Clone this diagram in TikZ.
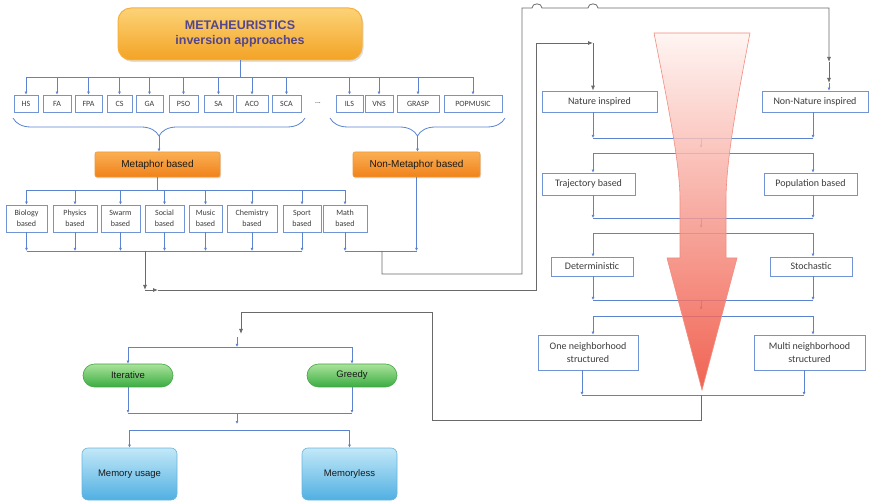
\documentclass[tikz,border=0pt]{standalone}
\usepackage{fontspec}
\setmainfont{Carlito}
\newfontfamily\arial{Liberation Sans}
\usetikzlibrary{arrows.meta,decorations.pathreplacing,shadows}

\definecolor{lnblue}{HTML}{5B83D0}
\definecolor{bxblue}{HTML}{7094D6}
\definecolor{gline}{HTML}{6A6A6A}
\definecolor{txt}{HTML}{3C3C3C}
\definecolor{ttl}{HTML}{53468C}

\begin{document}
\begin{tikzpicture}[x=1pt,y=-1pt,
  bx/.style={draw=bxblue, line width=0.7pt, fill=white, inner sep=1pt, text=txt, align=center},
  smallbx/.style={bx, font=\fontsize{8}{9}\selectfont, minimum height=17pt},
  catbx/.style={bx, font=\fontsize{8}{11}\selectfont, minimum height=27pt},
  colbx/.style={bx, font=\fontsize{10}{13}\selectfont},
  ttlbox/.style={rounded corners=13pt, draw={rgb,255:red,246;green,176;blue,64}, line width=1pt,
    top color={rgb,255:red,252;green,211;blue,119}, middle color={rgb,255:red,249;green,190;blue,74},
    bottom color={rgb,255:red,243;green,163;blue,37},
    drop shadow={opacity=0.25, shadow xshift=1.5pt, shadow yshift=-2pt},
    text=ttl, font=\arial\bfseries\fontsize{12.5}{15}\selectfont, align=center,
    minimum width=244pt, minimum height=52pt},
  orbox/.style={rounded corners=2pt, draw={rgb,255:red,243;green,150;blue,50}, line width=0.6pt,
    top color={rgb,255:red,250;green,175;blue,85}, bottom color={rgb,255:red,240;green,130;blue,25},
    drop shadow={opacity=0.25, shadow xshift=1pt, shadow yshift=-1.5pt},
    font=\arial\fontsize{10}{12}\selectfont, text=black!90, minimum height=25pt},
  grbox/.style={rounded corners=11.5pt, draw={rgb,255:red,70;green,165;blue,72}, line width=0.6pt,
    top color={rgb,255:red,170;green,228;blue,155}, bottom color={rgb,255:red,58;green,172;blue,65},
    font=\arial\fontsize{9.5}{12}\selectfont, text=black!90, minimum width=90pt, minimum height=23pt},
  blbox/.style={rounded corners=6pt, draw={rgb,255:red,105;green,180;blue,222}, line width=0.6pt,
    top color={rgb,255:red,195;green,232;blue,248}, bottom color={rgb,255:red,80;green,176;blue,226},
    font=\arial\fontsize{9.5}{12}\selectfont, text=black!90, minimum width=95pt, minimum height=52pt},
  bl/.style={draw=lnblue, line width=0.8pt},
  bla/.style={bl, -{Latex[length=3pt,width=3pt]}},
  gl/.style={draw=gline, line width=0.8pt},
  ga/.style={gl, -{Latex[length=5pt,width=4pt]}}
]
\useasboundingbox (0,0) rectangle (870,502);

% ---------- title ----------
\node[ttlbox] (title) at (240,34) {METAHEURISTICS\\inversion approaches};

% ---------- algorithm boxes ----------
\node[smallbx, minimum width=24pt] (hs)  at (26,103.5)  {HS};
\node[smallbx, minimum width=28pt] (fa)  at (57,103.5)  {FA};
\node[smallbx, minimum width=27pt] (fpa) at (88.5,103.5) {FPA};
\node[smallbx, minimum width=25pt] (cs)  at (119.5,103.5) {CS};
\node[smallbx, minimum width=27pt] (ga)  at (149.5,103.5) {GA};
\node[smallbx, minimum width=29pt] (pso) at (183.5,103.5) {PSO};
\node[smallbx, minimum width=29pt] (sa)  at (218.5,103.5) {SA};
\node[smallbx, minimum width=32pt] (aco) at (252,103.5) {ACO};
\node[smallbx, minimum width=29pt] (sca) at (286.5,103.5) {SCA};
\node[text=txt, font=\fontsize{7.5}{9}\selectfont] (dots) at (318,103) {...};
\node[smallbx, minimum width=27pt] (ils) at (349.5,103.5) {ILS};
\node[smallbx, minimum width=28pt] (vns) at (379,103.5) {VNS};
\node[smallbx, minimum width=42pt] (grasp) at (418,103.5) {GRASP};
\node[smallbx, minimum width=58pt] (pop) at (473,103.5) {POPMUSIC};

\coordinate (tbus) at (240,77);
\draw[bl] (title.south) -- (tbus);
\draw[bl] (hs.north |- tbus) -- (pop.north |- tbus);
\foreach \n in {hs,fa,fpa,cs,ga,pso,sa,aco,sca,ils,vns,grasp,pop}
  \draw[bla] (\n.north |- tbus) -- (\n.north);

% ---------- braces ----------
\coordinate (brLa) at (13,118);
\coordinate (brLb) at (305,118);
\coordinate (brRa) at (330,118);
\coordinate (brRb) at (505,118);
\draw[bl, decorate, decoration={brace, mirror, amplitude=18pt}] (brLa) -- (brLb);
\draw[bl, decorate, decoration={brace, mirror, amplitude=18pt}] (brRa) -- (brRb);
\coordinate (tipL) at (159,136);
\coordinate (tipR) at (417.5,136);

% ---------- metaphor / non-metaphor ----------
\node[orbox, minimum width=125pt] (meta) at (157.5,164.5) {Metaphor based};
\node[orbox, minimum width=127pt] (nonmeta) at (416.5,164.5) {Non-Metaphor based};
\draw[bla] (tipL) -- (tipL |- meta.north);
\draw[bla] (tipR) -- (tipR |- nonmeta.north);

\node[catbx, minimum width=41pt] (bio)   at (26.5,218.5)  {Biology\\based};
\node[catbx, minimum width=44pt] (phys)  at (75,218.5)    {Physics\\based};
\node[catbx, minimum width=39pt] (swarm) at (120.5,218.5) {Swarm\\based};
\node[catbx, minimum width=39pt] (soc)   at (164.5,218.5) {Social\\based};
\node[catbx, minimum width=33pt] (mus)   at (205.5,218.5) {Music\\based};
\node[catbx, minimum width=50pt] (chem)  at (252,218.5)   {Chemistry\\based};
\node[catbx, minimum width=38pt] (sport) at (302,218.5)   {Sport\\based};
\node[catbx, minimum width=44pt] (math)  at (345,218.5)   {Math\\based};

\coordinate (mbus) at (158,190);
\draw[bl] (meta.south) -- (meta.south |- mbus);
\draw[bl] (bio.north |- mbus) -- (math.north |- mbus);
\foreach \n in {bio,phys,swarm,soc,mus,chem,sport,math}
  \draw[bla] (\n.north |- mbus) -- (\n.north);

\coordinate (lbus) at (150,251);
\foreach \n in {bio,phys,swarm,soc,mus,chem,sport}
  \draw[bla] (\n.south) -- (\n.south |- lbus);
\draw[bl] (bio.south |- lbus) -- (sport.south |- lbus);
\draw[bla] (math.south) -- (math.south |- lbus);
\draw[bla] (nonmeta.south) -- (nonmeta.south |- lbus);
\draw[bl] (math.south |- lbus) -- (nonmeta.south |- lbus);

% ---------- right column ----------
\coordinate (colL) at (593,0);
\coordinate (colR) at (813,0);
\coordinate (colM) at (701,0);
\coordinate (colLb) at (582,0);
\coordinate (colRb) at (804,0);

\node[colbx, minimum width=115pt, minimum height=21pt] (ni) at (599.5,101.5) {Nature inspired};
\node[colbx, minimum width=106pt, minimum height=21pt] (nn) at (815,101.5) {Non-Nature inspired};
\node[colbx, minimum width=93pt, minimum height=22pt] (traj) at (588.5,184) {Trajectory based};
\node[colbx, minimum width=93pt, minimum height=22pt] (popb) at (810.5,184) {Population based};
\node[colbx, minimum width=82pt, minimum height=19pt] (det) at (592,266.5) {Deterministic};
\node[colbx, minimum width=82pt, minimum height=19pt] (sto) at (811,266.5) {Stochastic};
\node[colbx, minimum width=100pt, minimum height=35pt] (one) at (588,352.5) {One neighborhood\\structured};
\node[colbx, minimum width=111pt, minimum height=35pt] (multi) at (809.5,352.5) {Multi neighborhood\\structured};

\coordinate (rb1) at (0,138);
\coordinate (rm1) at (0,148);
\coordinate (rb2) at (0,153);
\coordinate (rb3) at (0,218);
\coordinate (rm3) at (0,228);
\coordinate (rb4) at (0,233);
\coordinate (rb5) at (0,300);
\coordinate (rm5) at (0,310);
\coordinate (rb6) at (0,316);
\coordinate (rb7) at (0,395);

\draw[bla] (colL |- ni.south) -- (colL |- rb1);
\draw[bla] (colR |- nn.south) -- (colR |- rb1);
\draw[bl] (colL |- rb1) -- (colR |- rb1);
\draw[bla] (colM |- rb1) -- (colM |- rm1);
\draw[bl] (colL |- rb2) -- (colR |- rb2);
\draw[bla] (colL |- rb2) -- (colL |- traj.north);
\draw[bla] (colR |- rb2) -- (colR |- popb.north);

\draw[bla] (colL |- traj.south) -- (colL |- rb3);
\draw[bla] (colR |- popb.south) -- (colR |- rb3);
\draw[bl] (colL |- rb3) -- (colR |- rb3);
\draw[bla] (colM |- rb3) -- (colM |- rm3);
\draw[bl] (colL |- rb4) -- (colR |- rb4);
\draw[bla] (colL |- rb4) -- (colL |- det.north);
\draw[bla] (colR |- rb4) -- (colR |- sto.north);

\draw[bla] (colL |- det.south) -- (colL |- rb5);
\draw[bla] (colR |- sto.south) -- (colR |- rb5);
\draw[bl] (colL |- rb5) -- (colR |- rb5);
\draw[bla] (colM |- rb5) -- (colM |- rm5);
\draw[bl] (colL |- rb6) -- (colR |- rb6);
\draw[bla] (colL |- rb6) -- (colL |- one.north);
\draw[bla] (colR |- rb6) -- (colR |- multi.north);

\draw[bla] (colLb |- one.south) -- (colLb |- rb7);
\draw[bla] (colRb |- multi.south) -- (colRb |- rb7);
\draw[bl] (colLb |- rb7) -- (colRb |- rb7);

% ---------- bottom left ----------
\node[grbox] (iter) at (128,375.5) {Iterative};
\node[grbox] (greedy) at (352,375.5) {Greedy};
\node[blbox] (memu) at (129.5,474) {Memory usage};
\node[blbox] (meml) at (349.5,474) {Memoryless};

\coordinate (gtop) at (237,337);
\coordinate (bb1) at (0,347);
\coordinate (bb2) at (0,413);
\coordinate (bm2) at (0,424);
\coordinate (bb3) at (0,430);
\draw[bla] (gtop) -- (gtop |- bb1);
\draw[bl] (iter.north |- bb1) -- (greedy.north |- bb1);
\draw[bla] (iter.north |- bb1) -- (iter.north);
\draw[bla] (greedy.north |- bb1) -- (greedy.north);
\draw[bla] (iter.south) -- (iter.south |- bb2);
\draw[bla] (greedy.south) -- (greedy.south |- bb2);
\draw[bl] (iter.south |- bb2) -- (greedy.south |- bb2);
\draw[bla] (gtop |- bb2) -- (gtop |- bm2);
\draw[bl] (memu.north |- bb3) -- (meml.north |- bb3);
\draw[bla] (memu.north |- bb3) -- (memu.north);
\draw[bla] (meml.north |- bb3) -- (meml.north);

% ---------- grey routing connectors ----------
% metaphor branch -> nature inspired
\coordinate (ga0) at (145,251);
\coordinate (ga1) at (145,290);
\coordinate (ga2) at (158,290);
\coordinate (ga3) at (536,290);
\coordinate (ga4) at (536,43);
\coordinate (ga5) at (593,43);
\draw[ga] (ga0) -- (ga1);
\draw[ga] (ga1) -- (ga2);
\draw[ga] (ga2) -- (ga3) -- (ga4) -- (ga5);
\draw[ga] (ga5) -- (colL |- ni.north);

% non-metaphor branch -> non-nature inspired (with line hops)
\coordinate (gb0) at (382,251);
\coordinate (gb1) at (382,274);
\coordinate (gb2) at (522,274);
\coordinate (gb3) at (522,8);
\coordinate (gb4) at (829,8);
\coordinate (gb5) at (829,62);
\coordinate (gb6) at (829,83);
\draw[ga] (gb0) -- (gb1) -- (gb2) -- (gb3) -- (532,8)
  .. controls (532,2.5) and (542,2.5) .. (542,8) -- (588,8)
  .. controls (588,2.5) and (598,2.5) .. (598,8) -- (gb4) -- (gb5);
\draw[ga] (gb5) -- (gb6);
\draw[bla] (gb6) -- (gb6 |- nn.north);

% classification column -> iterative / greedy
\coordinate (gc0) at (701,395);
\coordinate (gc1) at (701,420);
\coordinate (gc2) at (432,420);
\coordinate (gc3) at (432,312);
\coordinate (gc4) at (241,312);
\coordinate (gc5) at (241,334);
\draw[ga] (gc0) -- (gc1) -- (gc2) -- (gc3) -- (gc4) -- (gc5);

% ---------- red funnel arrow ----------
\path[draw={rgb,255:red,241;green,140;blue,128}, line width=0.6pt, fill opacity=0.85,
  top color={rgb,255:red,255;green,243;blue,240},
  middle color={rgb,255:red,248;green,172;blue,156},
  bottom color={rgb,255:red,238;green,72;blue,52}]
  (654,33) -- (750,33) .. controls (735,110) and (726,165) .. (726,200) -- (726,258)
  -- (737,258) -- (702,390) -- (667,258) -- (680,258) -- (680,200)
  .. controls (680,165) and (669,110) .. (654,33) -- cycle;

\end{tikzpicture}
\end{document}
